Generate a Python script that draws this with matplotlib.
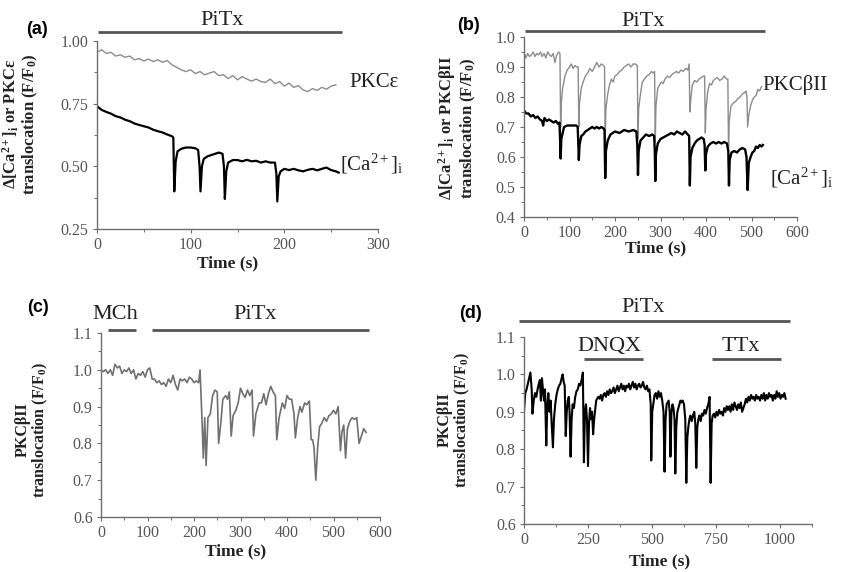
import numpy as np
import matplotlib
matplotlib.use("Agg")
import matplotlib.pyplot as plt
from matplotlib.ticker import MultipleLocator, FormatStrFormatter

plt.rcParams['font.family'] = ['Liberation Serif', 'DejaVu Serif']
plt.rcParams['mathtext.fontset'] = 'custom'
plt.rcParams['mathtext.rm'] = 'Liberation Serif'
plt.rcParams['mathtext.bf'] = 'Liberation Serif:bold'
plt.rcParams['mathtext.it'] = 'Liberation Serif:italic'

# ---- panel (a): PKCepsilon and [Ca2+]i during PiTx ----
a_t_pkc = [0, 5, 10, 15, 20, 25, 30, 35, 40, 45, 50, 55, 60, 65, 70, 75, 80, 85, 90, 95,
           100, 105, 110, 115, 120, 125, 130, 135, 140, 145, 150, 155, 160, 165, 170, 175,
           180, 185, 190, 195, 200, 205, 210, 215, 220, 225, 230, 235, 240, 245, 250, 255]
a_pkc = [0.955, 0.965, 0.95, 0.955, 0.94, 0.945, 0.935, 0.94, 0.925, 0.93, 0.92, 0.928, 0.918, 0.925, 0.915, 0.922, 0.905, 0.895, 0.885, 0.878,
         0.885, 0.87, 0.878, 0.865, 0.872, 0.878, 0.862, 0.865, 0.85, 0.862, 0.845, 0.858, 0.848, 0.84, 0.848, 0.838,
         0.835, 0.848, 0.83, 0.838, 0.82, 0.832, 0.815, 0.822, 0.805, 0.798, 0.81, 0.803, 0.815, 0.808, 0.82, 0.825]
a_t_ca = [0, 5, 10, 15, 20, 25, 30, 35, 40, 45, 50, 55, 60, 65, 70, 75, 80, 81.5, 82.5, 84, 86, 90, 95,
          100, 105, 108, 109.5, 110.5, 112, 114, 118, 122, 126, 130, 134, 135.5, 136.5, 138, 140, 145,
          150, 155, 160, 165, 170, 175, 180, 185, 190, 191.5, 192.5, 194, 196, 200, 205, 210, 215, 220,
          225, 230, 235, 240, 245, 250, 255, 258]
a_ca = [0.74, 0.725, 0.717, 0.71, 0.70, 0.695, 0.686, 0.68, 0.671, 0.665, 0.66, 0.655, 0.646, 0.64, 0.635, 0.627, 0.62, 0.615, 0.40, 0.52, 0.56, 0.57, 0.575,
        0.575, 0.572, 0.565, 0.50, 0.40, 0.50, 0.53, 0.54, 0.545, 0.55, 0.555, 0.55, 0.50, 0.37, 0.48, 0.515, 0.525,
        0.525, 0.52, 0.526, 0.52, 0.522, 0.515, 0.52, 0.515, 0.515, 0.47, 0.36, 0.46, 0.48, 0.49, 0.485, 0.49, 0.484, 0.48,
        0.486, 0.49, 0.484, 0.49, 0.495, 0.485, 0.48, 0.475]

# ---- panel (b): PKCbetaII and [Ca2+]i during PiTx ----
b_t_pkc = [0, 4, 8, 12, 16, 20, 24, 28, 32, 36, 40, 44, 48, 52, 56, 60, 64, 68, 72, 76, 79, 80.5, 82, 85, 90, 95,
           100, 104, 108, 112, 116, 119, 120.5, 122, 126, 130, 135, 140, 145, 150, 155, 160, 165, 170, 175, 177,
           178.5, 180, 184, 188, 192, 196, 200, 205, 210, 215, 220, 225, 230, 235, 240, 245, 249, 250.5, 252, 256,
           260, 265, 270, 275, 280, 284, 287, 288.5, 290, 294, 298, 302, 306, 310, 315, 320, 325, 330, 335, 340,
           345, 350, 355, 360, 363, 364.5, 367, 370, 375, 380, 385, 390, 395, 397, 398.5, 400, 404, 408, 412, 416,
           420, 425, 430, 435, 440, 445, 448, 449.5, 451, 455, 460, 465, 470, 475, 480, 485, 488, 490, 491.5, 494,
           498, 502, 506, 510, 514, 518, 522]
b_pkc = [0.95, 0.93, 0.945, 0.935, 0.94, 0.95, 0.935, 0.945, 0.94, 0.95, 0.935, 0.945, 0.93, 0.95, 0.94, 0.935, 0.945, 0.915, 0.94, 0.95, 0.945, 0.70, 0.78, 0.83, 0.87, 0.89,
         0.90, 0.91, 0.895, 0.905, 0.90, 0.90, 0.70, 0.78, 0.83, 0.85, 0.87, 0.88, 0.895, 0.885, 0.90, 0.915, 0.90, 0.91, 0.905, 0.90,
         0.65, 0.76, 0.81, 0.84, 0.86, 0.85, 0.87, 0.875, 0.885, 0.89, 0.90, 0.905, 0.91, 0.90, 0.91, 0.91, 0.905, 0.66, 0.76, 0.81,
         0.85, 0.86, 0.87, 0.875, 0.885, 0.88, 0.885, 0.65, 0.77, 0.83, 0.84, 0.85, 0.845, 0.86, 0.87, 0.865, 0.875, 0.88, 0.885, 0.88,
         0.89, 0.885, 0.895, 0.89, 0.91, 0.75, 0.80, 0.84, 0.855, 0.85, 0.86, 0.865, 0.87, 0.87, 0.68, 0.76, 0.82, 0.845, 0.84, 0.855,
         0.86, 0.865, 0.855, 0.86, 0.87, 0.86, 0.86, 0.63, 0.72, 0.77, 0.78, 0.785, 0.795, 0.80, 0.81, 0.815, 0.82, 0.80, 0.70, 0.74,
         0.77, 0.79, 0.80, 0.805, 0.825, 0.82, 0.835]
b_t_ca = [0, 5, 10, 15, 20, 25, 30, 35, 40, 42, 45, 50, 55, 60, 65, 70, 75, 78, 79.5, 80.5, 82, 85, 88, 95, 105, 115, 118,
          119.5, 120.5, 122, 126, 130, 135, 140, 145, 150, 155, 160, 165, 170, 175, 177, 178.5, 180, 184, 190, 195,
          200, 210, 220, 230, 240, 247, 249, 250.5, 252, 256, 262, 268, 275, 282, 286, 287.5, 288.5, 290, 294, 300,
          306, 312, 318, 324, 330, 336, 342, 348, 354, 360, 363, 364.5, 366, 370, 375, 380, 385, 390, 395, 397, 398.5,
          400, 404, 410, 416, 422, 428, 434, 440, 446, 449, 450.5, 452, 456, 462, 468, 474, 480, 486, 489, 491.5, 494,
          498, 502, 506, 510, 514, 518, 522, 525]
b_ca = [0.755, 0.745, 0.745, 0.735, 0.74, 0.73, 0.735, 0.725, 0.72, 0.705, 0.73, 0.72, 0.725, 0.72, 0.715, 0.72, 0.71, 0.715, 0.65, 0.595, 0.66, 0.68, 0.70, 0.705, 0.705, 0.705, 0.70,
        0.64, 0.59, 0.64, 0.67, 0.675, 0.685, 0.69, 0.695, 0.70, 0.695, 0.70, 0.695, 0.70, 0.695, 0.69, 0.53, 0.62, 0.655, 0.675, 0.68,
        0.685, 0.68, 0.69, 0.685, 0.69, 0.685, 0.64, 0.54, 0.62, 0.655, 0.665, 0.675, 0.67, 0.675, 0.67, 0.62, 0.52, 0.61, 0.645, 0.66,
        0.665, 0.67, 0.675, 0.68, 0.675, 0.685, 0.68, 0.675, 0.685, 0.675, 0.67, 0.505, 0.60, 0.63, 0.645, 0.655, 0.66, 0.665, 0.66, 0.64, 0.555,
        0.61, 0.635, 0.645, 0.65, 0.645, 0.65, 0.645, 0.65, 0.645, 0.62, 0.505, 0.59, 0.615, 0.62, 0.615, 0.625, 0.63, 0.625, 0.60, 0.49, 0.58,
        0.60, 0.615, 0.62, 0.635, 0.63, 0.64, 0.635, 0.64]

# ---- panel (c): PKCbetaII, MCh then PiTx ----
c_t = [0, 5, 10, 15, 20, 25, 30, 35, 40, 45, 50, 55, 60, 65, 70, 75, 80, 85, 90, 95, 100, 105, 110, 115, 120,
       125, 130, 135, 140, 145, 150, 155, 160, 165, 170, 175, 180, 185, 190, 195, 200, 205, 210, 213, 217, 220,
       223, 226, 230, 235, 240, 245, 250, 253, 258, 262, 268, 272, 276, 280, 284, 290, 295, 300, 305, 310, 315,
       320, 325, 328, 333, 340, 345, 350, 355, 360, 365, 370, 375, 378, 383, 390, 395, 400, 405, 410, 415, 418,
       423, 428, 432, 438, 442, 448, 452, 455, 458, 462, 466, 470, 475, 480, 485, 490, 495, 500, 505, 510, 515,
       518, 522, 526, 530, 535, 540, 545, 550, 555, 560, 565, 570]
c_pkc = [1.0, 0.995, 1.0, 0.99, 1.0, 0.985, 1.015, 1.005, 1.01, 0.99, 1.0, 0.995, 1.005, 0.99, 1.0, 0.975, 0.99, 0.985, 0.995, 0.98, 1.0, 1.005, 0.975, 0.975, 0.965,
         0.97, 0.96, 0.965, 0.955, 0.975, 0.965, 0.985, 0.96, 0.945, 0.975, 0.97, 0.975, 0.965, 0.98, 0.975, 0.965, 0.97, 0.965, 1.0, 0.87, 0.76,
         0.87, 0.74, 0.87, 0.88, 0.93, 0.945, 0.94, 0.80, 0.86, 0.92, 0.93, 0.92, 0.94, 0.82, 0.875, 0.89, 0.91, 0.95, 0.935, 0.925, 0.945,
         0.93, 0.945, 0.82, 0.88, 0.91, 0.91, 0.935, 0.905, 0.935, 0.955, 0.94, 0.93, 0.81, 0.87, 0.91, 0.895, 0.93, 0.92, 0.92, 0.88, 0.815,
         0.87, 0.90, 0.885, 0.91, 0.905, 0.915, 0.81, 0.81, 0.79, 0.70, 0.79, 0.845, 0.855, 0.87, 0.86, 0.875, 0.88, 0.89, 0.88, 0.90, 0.78,
         0.83, 0.85, 0.76, 0.84, 0.86, 0.87, 0.865, 0.87, 0.80, 0.82, 0.84, 0.83]

# ---- panel (d): PKCbetaII, PiTx with DNQX and TTx ----
d_t = [0, 5, 10, 15, 20, 25, 30, 33, 38, 43, 48, 53, 58, 62, 66, 70, 74, 78, 82, 87, 91, 95, 100, 104, 108,
       113, 117, 122, 127, 132, 137, 142, 147, 151, 155, 159, 163, 167, 171, 175, 178, 182, 186, 190, 195, 200,
       205, 210, 215, 220, 225, 230, 234, 238, 242, 246, 250, 254, 258, 262, 266, 270, 274, 278, 282, 286, 290,
       295, 300, 305, 310, 315, 320, 325, 330, 335, 340, 345, 350, 355, 360, 365, 370, 375, 380, 385, 390,
       395, 400, 405, 410, 415, 420, 425, 430, 435, 440, 445, 450, 455, 460, 465, 470, 475, 480, 485, 490,
       495, 497, 501, 505, 510, 515, 520, 525, 530, 535, 540, 545, 549, 553, 557, 561, 565, 569, 572, 576, 580,
       584, 588, 591, 595, 599, 603, 607, 611, 615, 620, 625, 630, 634, 638, 642, 646, 650, 655, 660, 665, 669,
       673, 677, 681, 685, 690, 695, 700, 705, 710, 715, 720, 725, 729, 733, 737, 742, 747, 752, 757, 762, 767,
       772, 777, 782, 787, 792, 797, 802, 807, 812, 817, 822, 827, 832, 837, 842, 847, 852, 857, 862, 867, 872,
       877, 882, 887, 892, 897, 902, 907, 912, 917, 922, 927, 932, 937, 942, 947, 952, 957, 962, 967, 972, 977,
       982, 987, 992, 997, 1002, 1007, 1012, 1017, 1022]
d_pkc = [0.90, 0.95, 0.96, 0.975, 0.99, 1.005, 0.96, 0.895, 0.93, 0.95, 0.94, 0.96, 0.975, 0.985, 0.93, 0.99, 0.96, 0.93, 0.96, 0.81, 0.92, 0.95, 0.90, 0.93, 0.87,
         0.805, 0.88, 0.92, 0.945, 0.96, 0.97, 0.975, 0.99, 1.0, 0.98, 0.97, 0.835, 0.90, 0.93, 0.94, 0.90, 0.78, 0.88, 0.92, 0.91, 0.94,
         0.955, 0.96, 0.975, 0.97, 0.985, 1.005, 0.765, 0.90, 0.92, 0.88, 0.755, 0.87, 0.91, 0.88, 0.90, 0.84, 0.88, 0.905, 0.93, 0.935, 0.94,
         0.935, 0.945, 0.93, 0.945, 0.95, 0.94, 0.955, 0.945, 0.96, 0.95, 0.955, 0.965, 0.95, 0.96, 0.97, 0.955, 0.965, 0.975, 0.96, 0.97,
         0.955, 0.97, 0.965, 0.975, 0.96, 0.97, 0.98, 0.965, 0.975, 0.96, 0.97, 0.975, 0.965, 0.97, 0.98, 0.965, 0.96, 0.97, 0.955, 0.96,
         0.92, 0.77, 0.90, 0.92, 0.945, 0.95, 0.935, 0.955, 0.94, 0.95, 0.93, 0.90, 0.74, 0.88, 0.92, 0.925, 0.93, 0.90, 0.78, 0.90, 0.92,
         0.91, 0.88, 0.735, 0.86, 0.90, 0.91, 0.92, 0.93, 0.925, 0.93, 0.92, 0.88, 0.71, 0.83, 0.86, 0.88, 0.89, 0.875, 0.89, 0.90, 0.87,
         0.75, 0.86, 0.88, 0.89, 0.875, 0.895, 0.89, 0.905, 0.895, 0.91, 0.92, 0.94, 0.71, 0.87, 0.89, 0.895, 0.885, 0.90, 0.89, 0.905, 0.895,
         0.90, 0.89, 0.91, 0.90, 0.915, 0.905, 0.915, 0.90, 0.92, 0.905, 0.925, 0.915, 0.905, 0.92, 0.91, 0.925, 0.90, 0.91, 0.92, 0.935, 0.925,
         0.94, 0.93, 0.945, 0.935, 0.94, 0.93, 0.945, 0.935, 0.94, 0.93, 0.945, 0.935, 0.95, 0.93, 0.945, 0.935, 0.95, 0.94, 0.945, 0.93, 0.945,
         0.935, 0.955, 0.94, 0.95, 0.935, 0.945, 0.94, 0.95, 0.935]

GRAY = '#8c8c8c'
AXC = '#6e6e6e'
BAR = '#555555'

fig = plt.figure(figsize=(8.43, 5.72), dpi=100)
W, H = 843.0, 572.0


def make_ax(x0, x1, y0, y1):
    # pixel box -> figure fraction
    return fig.add_axes([x0 / W, 1 - y1 / H, (x1 - x0) / W, (y1 - y0) / H])


def style(ax, xlim, ylim, xmaj, xmin, ymaj, ymin, yfmt):
    ax.set_xlim(*xlim)
    ax.set_ylim(*ylim)
    ax.xaxis.set_major_locator(MultipleLocator(xmaj))
    ax.xaxis.set_minor_locator(MultipleLocator(xmin))
    ax.yaxis.set_major_locator(MultipleLocator(ymaj))
    ax.yaxis.set_minor_locator(MultipleLocator(ymin))
    ax.yaxis.set_major_formatter(FormatStrFormatter(yfmt))
    for s in ('top', 'right'):
        ax.spines[s].set_visible(False)
    for s in ('left', 'bottom'):
        ax.spines[s].set_color(AXC)
        ax.spines[s].set_linewidth(1.0)
    ax.tick_params(which='major', direction='out', length=3, width=0.8, color=AXC,
                   labelsize=11.5, labelcolor='#555555', pad=3)
    ax.tick_params(which='minor', direction='out', length=2, width=0.7, color=AXC)
    ax.patch.set_alpha(0)


def bar(ax, x0, x1, y, label=None, ly=None, lx=None):
    tr = ax.get_xaxis_transform()
    ax.plot([x0, x1], [y, y], color=BAR, lw=2.0, transform=tr, clip_on=False,
            solid_capstyle='butt')
    if label:
        ax.text(lx if lx is not None else (x0 + x1) / 2, ly, label, transform=tr,
                ha='center', va='center', fontsize=16, color='#222222', clip_on=False)


# (a)
ax = make_ax(97, 378, 41, 229)
style(ax, (0, 300), (0.25, 1.0), 100, 50, 0.25, 0.125, '%.2f')
ax.plot(a_t_pkc, a_pkc, color=GRAY, lw=1.0)
ax.plot(a_t_ca, a_ca, color='black', lw=1.6)
bar(ax, 1, 262, 1.048, 'PiTx', 1.108, 133)
ax.text(269, 0.836, 'PKCε', fontsize=15, va='center', color='#222222', clip_on=False)
ax.text(259, 0.51, '[Ca$^{2+}$]$_\\mathrm{i}$', fontsize=15, va='center', color='#222222', clip_on=False)

# (b)
ax = make_ax(524, 797, 37, 217)
style(ax, (0, 600), (0.4, 1.0), 100, 50, 0.1, 0.05, '%.1f')
ax.plot(b_t_pkc, b_pkc, color=GRAY, lw=1.0)
ax.plot(b_t_ca, b_ca, color='black', lw=1.7)
bar(ax, 3, 530, 1.033, 'PiTx', 1.085, 262)
ax.text(523, 0.84, 'PKCβII', fontsize=15, va='center', color='#222222', clip_on=False)
ax.text(541, 0.53, '[Ca$^{2+}$]$_\\mathrm{i}$', fontsize=15, va='center', color='#222222', clip_on=False)

# (c)
ax = make_ax(101, 380, 333, 517)
style(ax, (0, 600), (0.6, 1.1), 100, 50, 0.1, 0.05, '%.1f')
ax.plot(c_t, c_pkc, color='#707070', lw=1.2)
bar(ax, 15, 75, 1.016, 'MCh', 1.098, 30)
bar(ax, 110, 577, 1.016, 'PiTx', 1.098, 331)

# (d)
ax = make_ax(524, 812, 337, 524)
style(ax, (0, 1125), (0.6, 1.1), 250, 125, 0.1, 0.05, '%.1f')
ax.plot(d_t, d_pkc, color='black', lw=1.5)
bar(ax, -20, 1039, 1.086, 'PiTx', 1.16, 465)
bar(ax, 234, 465, 0.882, 'DNQX', 0.95, 335)
bar(ax, 734, 1004, 0.882, 'TTx', 0.95, 848)

# panel letters
for lab, px, py in [('(a)', 37, 29), ('(b)', 469, 25), ('(c)', 38, 308), ('(d)', 470, 313)]:
    fig.text(px / W, 1 - py / H, lab, family=['Liberation Sans', 'DejaVu Sans'],
             fontweight='bold', fontsize=13, ha='center', va='center')

# y labels
ylab_ca_e = 'Δ[Ca$^{\\mathbf{2+}}$]$_{\\mathbf{i}}$ or PKCε\ntranslocation (F/F$_{\\mathbf{0}}$)'
ylab_ca_b = 'Δ[Ca$^{\\mathbf{2+}}$]$_{\\mathbf{i}}$ or PKCβII\ntranslocation (F/F$_{\\mathbf{0}}$)'
ylab_b = 'PKCβII\ntranslocation (F/F$_{\\mathbf{0}}$)'
for lab, px, py, fs in [(ylab_ca_e, 20, 124, 12), (ylab_ca_b, 457, 128, 12),
                        (ylab_b, 32, 430, 11.5), (ylab_b, 454, 420, 11.5)]:
    fig.text(px / W, 1 - py / H, lab, rotation=90, fontweight='bold', fontsize=fs,
             ha='center', va='center', multialignment='center', linespacing=1.0,
             color='#222222')

# x labels
for px, py in [(228, 263), (656, 248), (236, 551), (660, 561)]:
    fig.text(px / W, 1 - py / H, 'Time (s)', fontweight='bold', fontsize=12.5,
             ha='center', va='center', color='#222222')

fig.savefig('out.png', dpi=100)
